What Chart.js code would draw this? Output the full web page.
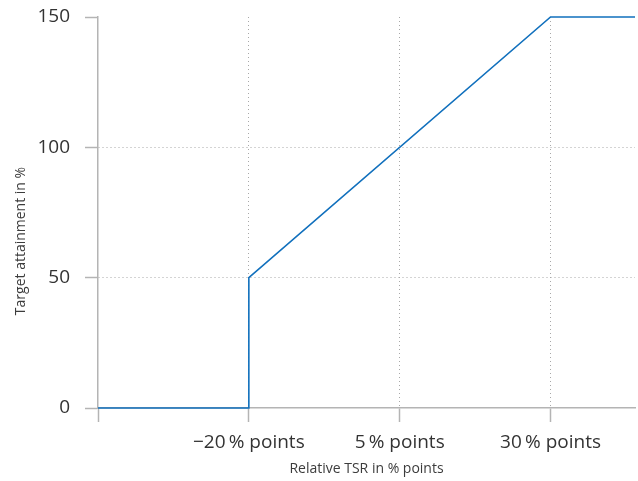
<!DOCTYPE html>
<html>
<head>
<meta charset="utf-8">
<script src="https://cdn.jsdelivr.net/npm/chart.js@4/dist/chart.umd.min.js"></script>
<style>
html,body{margin:0;padding:0;background:#fff;}
#wrap{width:638px;height:481px;position:relative;}
</style>
</head>
<body>
<div id="wrap"><canvas id="c" width="638" height="481"></canvas></div>
<script>
const xValues = [-45, -20, -20, 30, 44];
const yValues = [0, 0, 50, 150, 150];
const xTicks = [-45, -20, 5, 30];
const xTickLabels = ['', '\u221220\u2009% points', '5\u2009% points', '30\u2009% points'];
const yTicks = [0, 50, 100, 150];
const xTitle = 'Relative TSR in % points';
const yTitle = 'Target attainment in %';

const FONT = "'Open Sans', 'DejaVu Sans', sans-serif";
const points = xValues.map((x, i) => ({x: x, y: yValues[i]}));

const yTitlePlugin = {
  id: 'yTitlePlugin',
  afterDraw(chart) {
    const ctx = chart.ctx;
    ctx.save();
    ctx.translate(21, 241);
    ctx.rotate(-Math.PI / 2);
    ctx.font = '14px ' + FONT;
    ctx.fillStyle = '#3c3c3c';
    ctx.textAlign = 'center';
    ctx.textBaseline = 'middle';
    ctx.fillText(yTitle, 0, 0);
    ctx.restore();
  }
};

new Chart(document.getElementById('c'), {
  type: 'scatter',
  data: {
    datasets: [{
      data: points,
      showLine: true,
      borderColor: '#1170bd',
      borderWidth: 1.6,
      pointRadius: 0,
      fill: false,
      tension: 0,
      clip: false
    }]
  },
  options: {
    responsive: false,
    animation: false,
    layout: {padding: {left: 0, right: 3, top: 17, bottom: 4}},
    plugins: {legend: {display: false}, tooltip: {enabled: false}},
    scales: {
      x: {
        type: 'linear',
        min: -45,
        max: 44,
        afterBuildTicks(scale) { scale.ticks = xTicks.map(v => ({value: v})); },
        afterFit(scale) { scale.height = 69; scale.paddingLeft = 0; scale.paddingRight = 0; },
        border: {display: true, color: '#b4b4b4', width: 1.5, dash: [1, 3]},
        grid: {
          color: (c) => (c.tick && c.tick.value === -45) ? 'rgba(0,0,0,0)' : '#a8a8a8',
          lineWidth: 1,
          tickBorderDash: [],
          tickColor: '#b4b4b4',
          tickWidth: 1.5,
          tickLength: 14,
          drawTicks: true
        },
        ticks: {
          autoSkip: false,
          maxRotation: 0,
          padding: 9,
          color: '#333333',
          font: {family: FONT, size: 19},
          callback: (v) => { const i = xTicks.indexOf(v); return i >= 0 ? xTickLabels[i] : ''; }
        },
        title: {
          display: true,
          text: xTitle,
          color: '#3c3c3c',
          font: {family: FONT, size: 14},
          padding: {top: 4, bottom: 0}
        }
      },
      y: {
        type: 'linear',
        min: 0,
        max: 150,
        afterBuildTicks(scale) { scale.ticks = yTicks.map(v => ({value: v})); },
        afterFit(scale) { scale.width = 98; scale.paddingTop = 0; scale.paddingBottom = 0; },
        border: {display: true, color: '#b4b4b4', width: 1.5, dash: [1, 3]},
        grid: {
          color: (c) => (c.tick && (c.tick.value === 0 || c.tick.value === 150)) ? 'rgba(0,0,0,0)' : '#a8a8a8',
          lineWidth: 1,
          tickBorderDash: [],
          tickColor: '#b4b4b4',
          tickWidth: 1.5,
          tickLength: 13,
          drawTicks: true
        },
        ticks: {
          padding: 15,
          color: '#333333',
          font: {family: FONT, size: 19}
        },
        title: {display: false}
      }
    }
  },
  plugins: [yTitlePlugin]
});
</script>
</body>
</html>
